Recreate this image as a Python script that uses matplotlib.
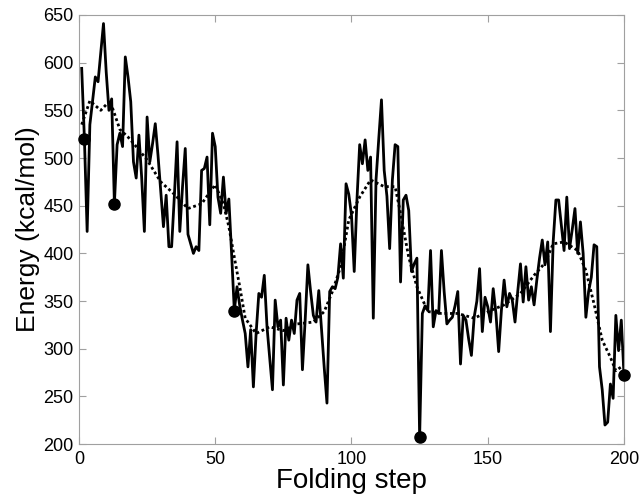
import matplotlib
matplotlib.use("Agg")
import matplotlib.pyplot as plt

plt.rcParams['font.family'] = ['Liberation Sans', 'DejaVu Sans']

# solid trace: energy at each folding step (1..200)
energy = [
    594, 520, 423, 535, 560, 585, 580, 610, 641, 590,
    550, 562, 452, 514, 526, 512, 606, 585, 559, 496,
    479, 524, 480, 423, 543, 496, 515, 536, 503, 465,
    428, 461, 407, 407, 460, 517, 423, 470, 510, 420,
    410, 400, 407, 403, 487, 489, 501, 430, 526, 512,
    459, 442, 480, 442, 457, 400, 340, 365, 345, 330,
    316, 281, 320, 260, 316, 358, 354, 377, 323, 290,
    257, 351, 323, 330, 262, 332, 309, 330, 316, 351,
    358, 278, 330, 388, 360, 335, 328, 361, 320, 280,
    243, 360, 365, 363, 375, 410, 374, 473, 462, 440,
    381, 456, 514, 494, 519, 487, 501, 332, 477, 520,
    561, 487, 460, 405, 477, 514, 512, 370, 456, 461,
    445, 381, 389, 395, 207, 337, 345, 340, 403, 323,
    340, 337, 403, 360, 326, 330, 333, 345, 360, 284,
    335, 330, 310, 293, 333, 350, 384, 318, 354, 344,
    328, 363, 337, 297, 340, 372, 344, 358, 351, 328,
    360, 389, 349, 386, 351, 365, 346, 372, 395, 414,
    388, 412, 318, 412, 456, 456, 430, 403, 459, 405,
    425, 447, 400, 433, 400, 333, 360, 375, 409, 407,
    281, 257, 220, 223, 263, 248, 335, 298, 330, 272,
]
steps = list(range(1, len(energy) + 1))

# dotted smooth trend
trend_steps = [1, 4, 8, 10, 12, 15, 18, 21, 25, 30, 35, 40, 45, 50, 53, 55,
               57, 59, 61, 65, 70, 75, 80, 86, 90, 93, 96, 99, 103, 107, 112,
               116, 118, 121, 124, 128, 133, 139, 145, 151, 156, 162, 167,
               171, 174, 178, 183, 186, 189, 192, 195, 197, 200]
trend_energy = [535, 560, 550, 556, 555, 530, 522, 512, 498, 475, 462, 447,
                452, 472, 452, 428, 396, 365, 332, 316, 323, 319, 326, 328,
                339, 360, 386, 435, 459, 477, 470, 470, 442, 396, 365, 339,
                337, 337, 332, 340, 346, 358, 377, 390, 410, 412, 403, 382,
                347, 309, 291, 277, 283]

# highlighted conformations
mark_steps = [2, 13, 57, 125, 200]

fig = plt.figure(figsize=(6.42, 4.99), dpi=100)
ax = fig.add_axes([0.123, 0.110, 0.849, 0.860])

ax.plot(steps, energy, color='black', lw=2.0)
ax.plot(trend_steps, trend_energy, color='black', lw=2.0, ls=(0, (1, 1)))
ax.plot(mark_steps, [energy[s - 1] for s in mark_steps], 'o',
        color='black', ms=8, clip_on=False, zorder=5)

ax.set_xlim(0, 200)
ax.set_ylim(200, 650)
ax.set_xticks(range(0, 201, 50))
ax.set_yticks(range(200, 651, 50))

for s in ax.spines.values():
    s.set_color('#a0a0a0')
ax.tick_params(direction='in', length=5, color='#a0a0a0', labelsize=13,
               top=True, right=True)
ax.tick_params(axis='x', pad=5)
ax.tick_params(axis='y', pad=4)

ax.set_xlabel('Folding step', fontsize=20, labelpad=0)
ax.set_ylabel('Energy (kcal/mol)', fontsize=19, labelpad=2)

fig.savefig('out.png', dpi=100)
